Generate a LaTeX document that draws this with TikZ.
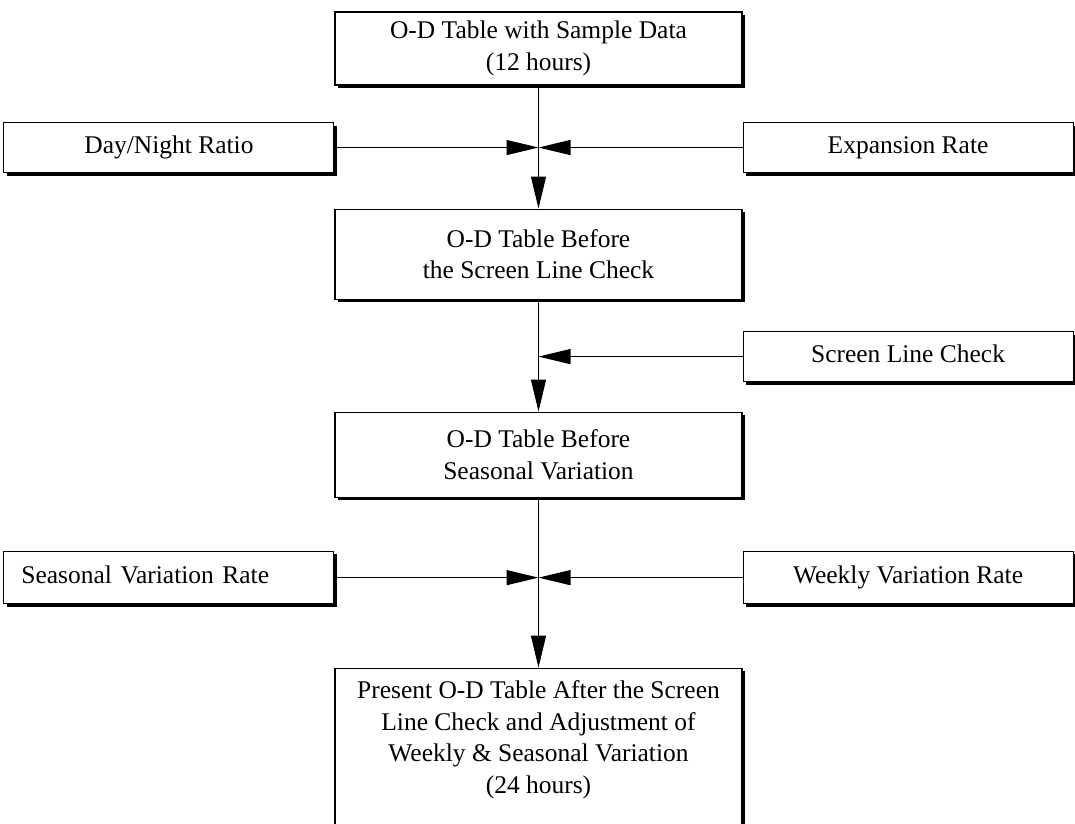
\documentclass[tikz,border=0pt]{standalone}
\usepackage{fontspec}
\setmainfont{Liberation Serif}
\usetikzlibrary{positioning,arrows.meta,calc,shadows}

\begin{document}
\begin{tikzpicture}[
  x=1mm,y=1mm,
  font=\fontsize{14.5}{18}\selectfont,
  >={Triangle[length=6.4mm,width=3mm]},
  node distance=22mm and 0mm,
  % --- boxes: thin outline, heavy edge along the bottom and right ---
  base/.style ={draw=black,line width=0.6pt,fill=white,align=center,
                inner sep=2pt,
                drop shadow={shadow xshift=0.6mm,shadow yshift=-0.6mm,
                             fill=black,opacity=1}},
  tbl/.style  ={base,minimum width=81.4mm},
  rate/.style ={base,minimum width=66mm,minimum height=10mm,
                text height=2ex,text depth=0.6ex},
  flow/.style ={->,line width=0.6pt},
]
\useasboundingbox (0,0) rectangle (215,-164.8);
\clip (0,0) rectangle (215,-164.8);

% ============================ main column ============================
\node[tbl,minimum height=14.6mm] (sample) at (107.7,-9.7)
  {O-D Table with Sample Data\\(12 hours)};
\node[tbl,minimum height=18mm,below=24.6mm of sample] (bscreen)
  {O-D Table Before\\the Screen Line Check};
\node[tbl,minimum height=17mm,below=22.4mm of bscreen] (bseason)
  {O-D Table Before\\Seasonal Variation};
\node[tbl,below=34mm of bseason,inner ysep=2.5mm,text depth=8mm] (present)
  {Present O-D Table After the Screen\\Line Check and Adjustment of\\
   Weekly \& Seasonal Variation\\(24 hours)};

% ====================== where the side inputs join ======================
\coordinate (j1) at ($(sample.south)+(0,-12.4)$);
\coordinate (j2) at ($(bscreen.south)+(0,-11.4)$);
\coordinate (j3) at ($(bseason.south)+(0,-16)$);

% ============================ side inputs ============================
\node[rate,anchor=east] (daynight) at (sample.west |- j1) {Day/Night Ratio};
\node[rate,anchor=west] (expansion) at (sample.east |- j1) {Expansion Rate};
\node[rate,anchor=west] (screen) at (bscreen.east |- j2) {Screen Line Check};
\node[rate,anchor=east,align=left,text width=59mm,inner xsep=3.4mm,
      minimum height=10.5mm] (seasonal) at (bseason.west |- j3)
  {Seasonal Variation Rate};
\node[rate,anchor=west,minimum height=10.5mm] (weekly) at (bseason.east |- j3)
  {Weekly Variation Rate};

% ============================ connectors ============================
\draw[flow] (sample)    -- (bscreen);
\draw[flow] (daynight)  -- (j1);
\draw[flow] (expansion) -- (j1);
\draw[flow] (bscreen)   -- (bseason);
\draw[flow] (screen)    -- (j2);
\draw[flow] (bseason)   -- (present);
\draw[flow] (seasonal)  -- (j3);
\draw[flow] (weekly)    -- (j3);

\end{tikzpicture}
\end{document}
